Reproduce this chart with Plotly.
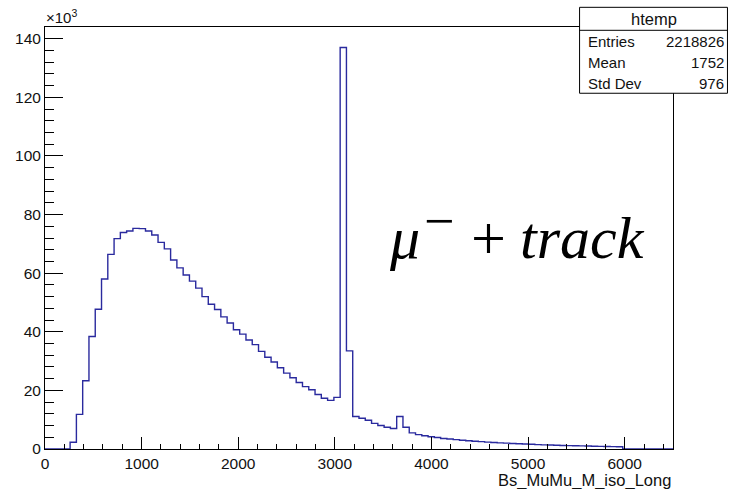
import plotly.graph_objects as go

# ---- data (bin contents in units of 10^3 entries) ----
X_MIN = 0
X_MAX = 6500
N_BINS = 100
bin_contents_k = [
    0, 0, 0, 0, 2.3, 11.8, 23.3, 38.4, 47.7, 58.0,
    66.4, 71.8, 73.9, 74.4, 75.3, 75.2, 74.4, 73.0, 70.5, 68.3,
    64.5, 61.8, 59.4, 57.3, 54.9, 52.0, 49.4, 47.6, 45.1, 43.0,
    40.7, 39.2, 37.2, 35.6, 33.3, 31.3, 29.7, 27.7, 25.9, 24.3,
    22.7, 21.3, 20.2, 18.6, 17.3, 16.6, 17.6, 137.0, 33.5, 11.1,
    10.5, 9.8, 8.75, 8.0, 7.4, 7.0, 11.1, 7.4, 5.5, 4.9,
    4.5, 4.2, 3.9, 3.6, 3.4, 3.2, 3.0, 2.8, 2.65, 2.5,
    2.35, 2.2, 2.1, 2.0, 1.9, 1.8, 1.7, 1.6, 1.5, 1.42,
    1.35, 1.28, 1.2, 1.15, 1.1, 1.05, 1.0, 0.95, 0.9, 0.85,
    0.8, 0.75, 0, 0, 0, 0, 0, 0, 0, 0,
]
x_title = "Bs_MuMu_M_iso_Long"
stats_title = "htemp"
stats_labels = ["Entries", "Mean", "Std Dev"]
stats_values = ["2218826", "1752", "976"]
y_max_k = 144.0

bw = (X_MAX - X_MIN) / N_BINS
edges = [X_MIN + i * bw for i in range(N_BINS + 1)]
ys = bin_contents_k + [bin_contents_k[-1]]

fig = go.Figure()
fig.add_trace(go.Scatter(
    x=edges, y=ys, mode="lines", line_shape="hv",
    line=dict(color="#2a2a9e", width=1.4), hoverinfo="skip",
))

# geometry helpers (pixel -> paper)
L, R, T, B = 45, 673.5, 26.7, 449
W, H = R - L, B - T
def px(X):
    return (X - L) / W
def py(Y):
    return (B - Y) / H

tickfont = dict(family="Liberation Sans, Arial", size=15.5, color="#111")

fig.update_layout(
    width=729, height=489,
    margin=dict(l=L, r=729 - R, t=T, b=489 - B, pad=0),
    paper_bgcolor="white", plot_bgcolor="white",
    showlegend=False,
    xaxis=dict(
        range=[X_MIN, X_MAX], showgrid=False, zeroline=False,
        showline=True, linecolor="black", linewidth=1, mirror=True,
        ticks="inside", ticklen=12, tickwidth=1, tickcolor="black",
        dtick=1000, tick0=0, tickfont=tickfont,
        minor=dict(ticks="inside", ticklen=5.5, dtick=200, tickcolor="black", showgrid=False),
    ),
    yaxis=dict(
        range=[0, y_max_k], showgrid=False, zeroline=False,
        showline=True, linecolor="black", linewidth=1, mirror=True,
        ticks="inside", ticklen=18, tickwidth=1, tickcolor="black",
        dtick=20, tick0=0, tickfont=tickfont,
        minor=dict(ticks="inside", ticklen=9, dtick=4, tickcolor="black", showgrid=False),
    ),
)

ann = []
# x10^3 multiplier
ann.append(dict(xref="paper", yref="paper", x=px(44), y=py(16), xanchor="left", yanchor="middle",
                text="×10<sup>3</sup>", showarrow=False,
                font=dict(family="Liberation Sans, Arial", size=15, color="#111")))
# x axis title
ann.append(dict(xref="paper", yref="paper", x=px(674), y=py(481), xanchor="right", yanchor="middle",
                text=x_title, showarrow=False,
                font=dict(family="Liberation Sans, Arial", size=16.5, color="#111")))

# stats box
bx0, bx1, by0, by1, bdiv = 580, 728, 7, 93, 30
shapes = [
    dict(type="rect", xref="paper", yref="paper", x0=px(bx0), x1=px(bx1), y0=py(by1), y1=py(by0),
         line=dict(color="black", width=1), fillcolor="white", layer="above"),
    dict(type="line", xref="paper", yref="paper", x0=px(bx0), x1=px(bx1), y0=py(bdiv), y1=py(bdiv),
         line=dict(color="black", width=1), layer="above"),
]
sfont = dict(family="Liberation Sans, Arial", size=15, color="#111")
ann.append(dict(xref="paper", yref="paper", x=px((bx0 + bx1) / 2), y=py(19), xanchor="center", yanchor="middle",
                text=stats_title, showarrow=False, font=dict(family="Liberation Sans, Arial", size=16.5, color="#111")))
row_y = [41, 62, 83]
for lab, val, yy in zip(stats_labels, stats_values, row_y):
    ann.append(dict(xref="paper", yref="paper", x=px(586), y=py(yy), xanchor="left", yanchor="middle",
                    text=lab, showarrow=False, font=sfont))
    ann.append(dict(xref="paper", yref="paper", x=px(727), y=py(yy), xanchor="right", yanchor="middle",
                    text=val, showarrow=False, font=sfont))

# mu^- + track label
serif = "Liberation Serif, Times New Roman, serif"
ann.append(dict(xref="paper", yref="paper", x=px(405), y=py(238), xanchor="center", yanchor="middle",
                text="<i>μ</i>", showarrow=False, font=dict(family=serif, size=60, color="black")))
ann.append(dict(xref="paper", yref="paper", x=px(439), y=py(221), xanchor="center", yanchor="middle",
                text="−", showarrow=False, font=dict(family=serif, size=54, color="black")))
ann.append(dict(xref="paper", yref="paper", x=px(489), y=py(238), xanchor="center", yanchor="middle",
                text="+", showarrow=False, font=dict(family=serif, size=62, color="black")))
ann.append(dict(xref="paper", yref="paper", x=px(583), y=py(238), xanchor="center", yanchor="middle",
                text="<i>track</i>", showarrow=False, font=dict(family=serif, size=60, color="black")))

fig.update_layout(annotations=ann, shapes=shapes)
fig.write_html("out.html")
